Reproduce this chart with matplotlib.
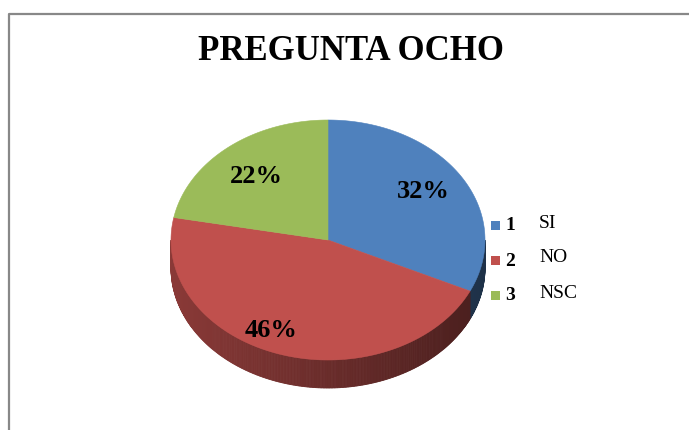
import numpy as np
import matplotlib.pyplot as plt
from matplotlib.patches import Polygon, Rectangle
from matplotlib.colors import to_rgb

plt.rcParams['font.family'] = ['Liberation Serif', 'DejaVu Serif']

title = "PREGUNTA OCHO"
codes = ["1", "2", "3"]
answers = ["SI", "NO", "NSC"]
shares = [32, 46, 22]
colors = ["#4F81BD", "#C0504D", "#9BBB59"]

W, H = 689, 430
fig = plt.figure(figsize=(W / 100, H / 100), dpi=100)
ax = fig.add_axes([0, 0, 1, 1])
ax.set_xlim(0, W)
ax.set_ylim(H, 0)
ax.axis("off")

# chart frame (only left and top edges are visible in the crop)
ax.plot([9, 9, W + 5], [H + 5, 14, 14], color="#888888", lw=1.6, solid_capstyle="butt")

ax.text(351, 51, title, ha="center", va="center", fontsize=25, fontweight="bold")

# 3D pie geometry
cx, cy, rx, ry, depth = 328, 240, 157, 120, 28


def pt(a, dy=0.0):
    return cx + rx * np.cos(a), cy - ry * np.sin(a) + dy


start = np.pi / 2
spans = []
for s in shares:
    end = start - 2 * np.pi * s / 100
    spans.append((start, end))
    start = end

# side walls, shaded darker toward the right
for (a0, a1), col in zip(spans, colors):
    rgb = np.array(to_rgb(col))
    lo, hi = sorted((a0, a1))
    for k in (-1, 0, 1):
        s0 = max(lo, -np.pi + 2 * np.pi * k)
        s1 = min(hi, 2 * np.pi * k)
        if s1 <= s0:
            continue
        n = max(2, int((s1 - s0) / 0.01))
        grid = np.linspace(s0, s1, n + 1)
        for b0, b1 in zip(grid[:-1], grid[1:]):
            x0, y0 = pt(b0)
            x1, y1 = pt(b1)
            xm = (x0 + x1) / 2
            f = 0.72 - 0.34 * (xm - (cx - rx)) / (2 * rx)
            c = np.clip(rgb * f, 0, 1)
            ax.add_patch(Polygon([(x0, y0), (x1, y1), (x1, y1 + depth), (x0, y0 + depth)],
                                 closed=True, fc=c, ec=c, lw=0.6))

# top face
for (a0, a1), col in zip(spans, colors):
    ts = np.linspace(a0, a1, 200)
    xs, ys = pt(ts)
    verts = [(cx, cy)] + list(zip(xs, ys))
    ax.add_patch(Polygon(verts, closed=True, fc=col, ec=col, lw=0.4))

# percentage labels
nudge = [(0, -2), (-22, 8), (0, 3)]
for (a0, a1), s, (dx, dy) in zip(spans, shares, nudge):
    mid = (a0 + a1) / 2
    x, y = pt(mid)
    lx = cx + (x - cx) * 0.72 + dx
    ly = cy + (y - cy) * 0.72 + dy
    ax.text(lx, ly, f"{s}%", ha="center", va="center", fontsize=19, fontweight="bold")

# legend
for i, (code, ans, col) in enumerate(zip(codes, answers, colors)):
    yc = 225 + 35 * i
    ax.add_patch(Rectangle((491, yc - 4.5), 9, 9, fc=col, ec="none"))
    ax.text(505, yc + 1, code, ha="left", va="center", fontsize=14, fontweight="bold")
    ax.text(539, yc - 2, ans, ha="left", va="center", fontsize=14)

fig.savefig("out.png", dpi=100)
